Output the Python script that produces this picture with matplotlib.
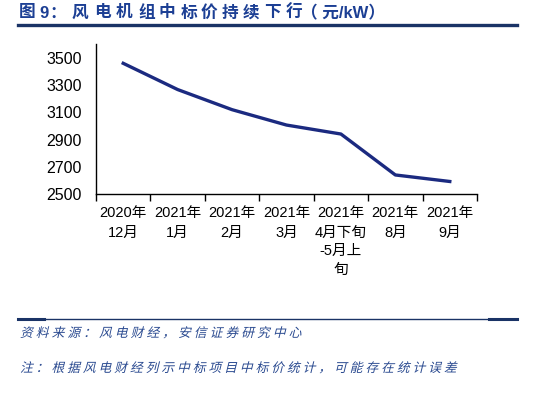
import matplotlib
matplotlib.use("Agg")
import matplotlib.pyplot as plt
from matplotlib.lines import Line2D
from matplotlib.textpath import TextPath
from matplotlib.patches import PathPatch
from matplotlib.font_manager import FontProperties
from matplotlib.transforms import Affine2D

categories = ["2020年\n12月", "2021年\n1月", "2021年\n2月", "2021年\n3月",
              "2021年\n4月下旬\n-5月上\n旬", "2021年\n8月", "2021年\n9月"]
prices = [3461, 3268, 3120, 3007, 2941, 2640, 2592]
yticks = [2500, 2700, 2900, 3100, 3300, 3500]

title_parts = ["图", "9", "：", "风", "电", "机", "组", "中", "标", "价", "持", "续",
               "下", "行", "（ 元/kW）"]
source = "资料来源：风电财经，安信证券研究中心"
note = "注：根据风电财经列示中标项目中标价统计，可能存在统计误差"

fam = ["Liberation Sans", "Noto Sans CJK SC", "DejaVu Sans"]
plt.rcParams["font.family"] = fam

W, H = 537, 395
navy = "#1b2a80"
tcol = "#1c3f94"
lcol = "#1a3366"

fig = plt.figure(figsize=(W/100, H/100), dpi=100)
ax = fig.add_axes([96/W, 1 - 194/H, (477-96)/W, (194-44.4)/H])

x = list(range(len(categories)))
ax.plot(x, prices, color=navy, lw=2.4, solid_joinstyle="round")
ax.set_xlim(-0.5, len(categories) - 0.5)
ax.set_ylim(2500, 3600)
ax.set_yticks(yticks)
ax.set_yticklabels([str(v) for v in yticks], fontsize=11.5)
ax.tick_params(axis="y", length=0, pad=10)
ax.set_xticks([i + 0.5 for i in range(-1, len(categories))], minor=False)
ax.set_xticklabels([])
ax.tick_params(axis="x", which="major", direction="out", length=5, width=1, color="black")
ax.set_xticks(x, minor=True)
ax.set_xticklabels(categories, minor=True, fontsize=10.5, linespacing=1.45)
ax.tick_params(axis="x", which="minor", length=0, pad=9)
for s in ["top", "right"]:
    ax.spines[s].set_visible(False)
for s in ["left", "bottom"]:
    ax.spines[s].set_linewidth(1.0)
    ax.spines[s].set_color("black")

# title, characters spaced out
tx = [19, 39, 49, 72, 94, 116, 138, 159, 181, 201, 222, 243, 264, 286, 301]
for xp, ch in zip(tx, title_parts):
    fig.text(xp/W, 1 - 13/H, ch, fontsize=12, fontweight="bold", color=tcol,
             va="center", ha="left", family=["Liberation Sans", "Noto Sans CJK SC"])
fig.add_artist(Line2D([18/W, 517/W], [1 - 25/H] * 2, color=lcol, lw=2.4))

fig.add_artist(Line2D([18/W, 517/W], [1 - 319/H] * 2, color=lcol, lw=1.0))
fig.add_artist(Line2D([18/W, 44/W], [1 - 319/H] * 2, color=lcol, lw=2.2))
fig.add_artist(Line2D([489/W, 517/W], [1 - 319/H] * 2, color=lcol, lw=2.2))

prop = FontProperties(family="Noto Sans CJK SC")

def italic_line(s, x0, ybase, pitch, size):
    for i, ch in enumerate(s):
        tp = TextPath((0, 0), ch, size=size, prop=prop)
        tr = Affine2D().skew_deg(14, 0).translate(x0 + i * pitch, H - ybase)
        fig.add_artist(PathPatch(tr.transform_path(tp), facecolor="#2a4a90",
                                 edgecolor="none", transform=None))

italic_line(source, 20, 337, 15.8, 12.8)
italic_line(note, 20, 372, 15.7, 12.8)

fig.savefig("out.png", dpi=100)
